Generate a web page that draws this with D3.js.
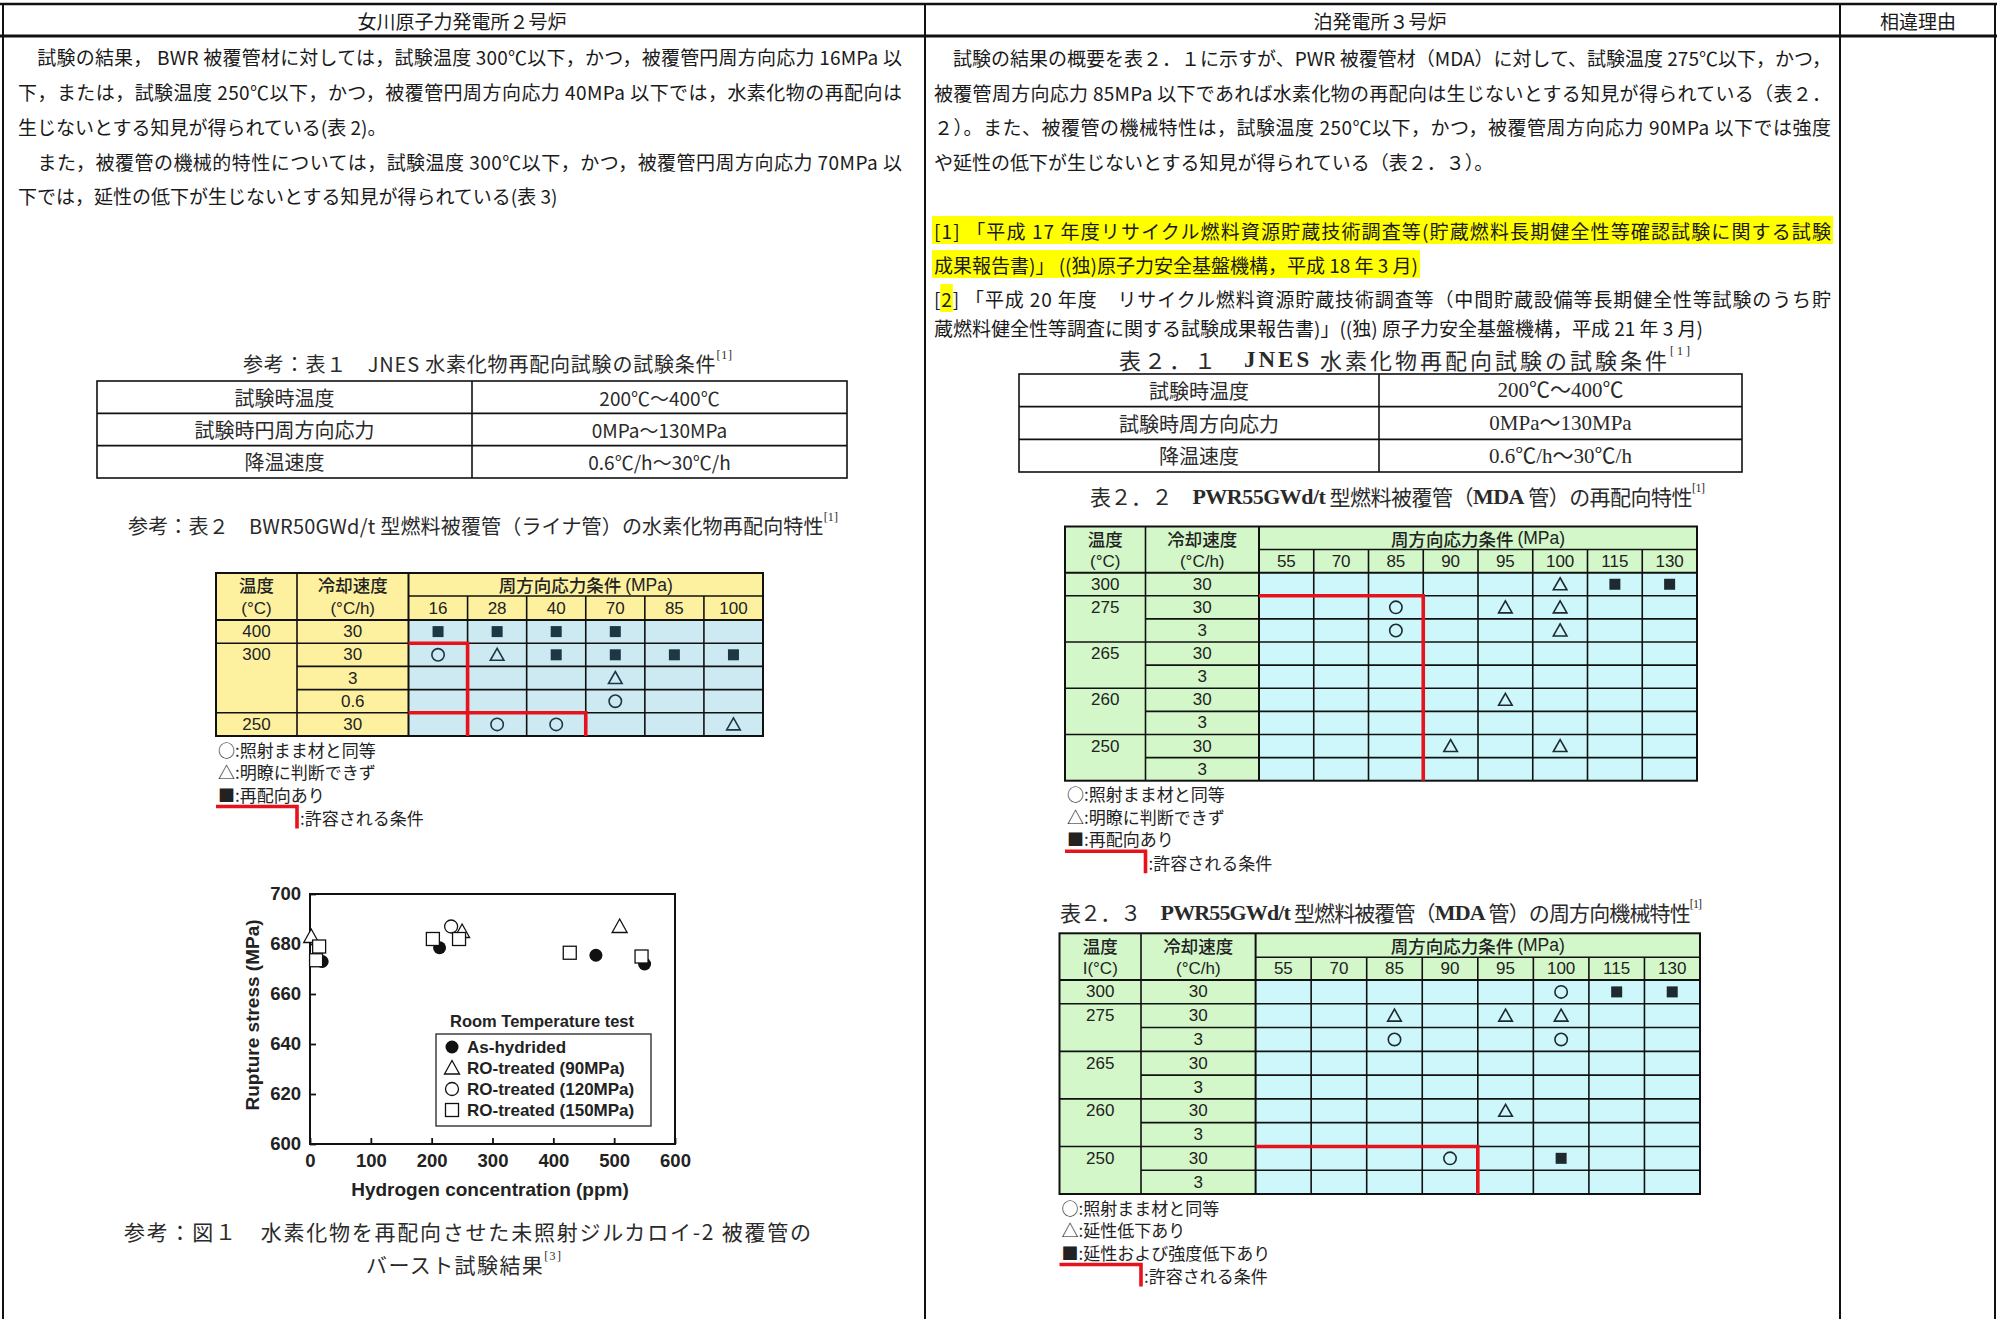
<!DOCTYPE html>
<html>
<head>
<meta charset="utf-8">
<script src="https://cdn.jsdelivr.net/npm/d3@7"></script>
<style>
  body { margin: 0; background: #fff; }
  svg { display: block; }
</style>
</head>
<body>
<svg id="page" width="2000" height="1319"></svg>
<script>
// ---- data ----
const headers = ['女川原子力発電所２号炉', '泊発電所３号炉', '相違理由'];

const leftText = [
  '　試験の結果， BWR 被覆管材に対しては，試験温度 300℃以下，かつ，被覆管円周方向応力 16MPa 以',
  '下，または，試験温度 250℃以下，かつ，被覆管円周方向応力 40MPa 以下では，水素化物の再配向は',
  '生じないとする知見が得られている(表 2)。',
  '　また，被覆管の機械的特性については，試験温度 300℃以下，かつ，被覆管円周方向応力 70MPa 以',
  '下では，延性の低下が生じないとする知見が得られている(表 3)'
];
const leftJustify = [true, true, false, true, false];

const rightText = [
  '　試験の結果の概要を表２．１に示すが、PWR 被覆管材（MDA）に対して、試験温度 275℃以下，かつ，',
  '被覆管周方向応力 85MPa 以下であれば水素化物の再配向は生じないとする知見が得られている（表２．',
  '２）。また、被覆管の機械特性は，試験温度 250℃以下，かつ，被覆管周方向応力 90MPa 以下では強度',
  'や延性の低下が生じないとする知見が得られている（表２．３）。'
];
const rightJustify = [true, true, true, false];

const refText = [
  '[1] 「平成 17 年度リサイクル燃料資源貯蔵技術調査等(貯蔵燃料長期健全性等確認試験に関する試験',
  '成果報告書)」 ((独)原子力安全基盤機構，平成 18 年 3 月)',
  '[2] 「平成 20 年度　リサイクル燃料資源貯蔵技術調査等（中間貯蔵設備等長期健全性等試験のうち貯',
  '蔵燃料健全性等調査に関する試験成果報告書)」((独) 原子力安全基盤機構，平成 21 年 3 月)'
];
const refJustify = [true, false, true, false];

const condLabelsL = ['試験時温度', '試験時円周方向応力', '降温速度'];
const condValuesL = ['200℃～400℃', '0MPa～130MPa', '0.6℃/h～30℃/h'];
const condLabelsR = ['試験時温度', '試験時周方向応力', '降温速度'];
const condValuesR = ['200℃～400℃', '0MPa～130MPa', '0.6℃/h～30℃/h'];

const bwrStress = [16, 28, 40, 70, 85, 100];
const bwrTemps = ['400', '300', '250'];
const bwrTempSpan = [1, 3, 1];
const bwrRates = ['30', '30', '3', '0.6', '30'];
const bwrMarks = [
  [0, 16, 'sq'], [0, 28, 'sq'], [0, 40, 'sq'], [0, 70, 'sq'],
  [1, 16, 'ci'], [1, 28, 'tr'], [1, 40, 'sq'], [1, 70, 'sq'], [1, 85, 'sq'], [1, 100, 'sq'],
  [2, 70, 'tr'], [3, 70, 'ci'],
  [4, 28, 'ci'], [4, 40, 'ci'], [4, 100, 'tr']
];
const bwrLimit = [[[0, 1], [1, 1], [1, 5]], [[0, 4], [3, 4], [3, 5]]];
const bwrLegend = ['○:照射まま材と同等', '△:明瞭に判断できず', '■:再配向あり'];

const mdaStress = [55, 70, 85, 90, 95, 100, 115, 130];
const mdaTemps = ['300', '275', '265', '260', '250'];
const mdaTempSpan = [1, 2, 2, 2, 2];
const mdaRates = ['30', '30', '3', '30', '3', '30', '3', '30', '3'];

const reorientMarks = [
  [0, 100, 'tr'], [0, 115, 'sq'], [0, 130, 'sq'],
  [1, 85, 'ci'], [1, 95, 'tr'], [1, 100, 'tr'],
  [2, 85, 'ci'], [2, 100, 'tr'],
  [5, 95, 'tr'],
  [7, 90, 'tr'], [7, 100, 'tr']
];
const reorientLimit = [[[0, 1], [3, 1], [3, 9]]];
const reorientLegend = ['○:照射まま材と同等', '△:明瞭に判断できず', '■:再配向あり'];

const mechMarks = [
  [0, 100, 'ci'], [0, 115, 'sq'], [0, 130, 'sq'],
  [1, 85, 'tr'], [1, 95, 'tr'], [1, 100, 'tr'],
  [2, 85, 'ci'], [2, 100, 'ci'],
  [5, 95, 'tr'],
  [7, 90, 'ci'], [7, 100, 'sq']
];
const mechLimit = [[[0, 7], [4, 7], [4, 9]]];
const mechLegend = ['○:照射まま材と同等', '△:延性低下あり', '■:延性および強度低下あり'];
const allowLabel = ':許容される条件';

// burst test (hydrogen ppm, rupture stress MPa)
const asHydrided = [[20, 673], [213, 678.5], [470, 675.5], [550, 672]];
const ro90 = [[2, 683], [250, 685], [509, 687]];
const ro120 = [[232, 687]];
const ro150 = [[10, 673.5], [15, 679], [202, 682], [245, 682], [427, 676.5], [545, 675]];
const seriesNames = ['As-hydrided', 'RO-treated (90MPa)', 'RO-treated (120MPa)', 'RO-treated (150MPa)'];
const xTicks = [0, 100, 200, 300, 400, 500, 600];
const yTicks = [600, 620, 640, 660, 680, 700];

// ---- drawing ----
const FONT_JP = '"Noto Sans CJK JP", sans-serif';
const FONT_SANS = '"Liberation Sans", Arial, sans-serif';
const FONT_NARROW = '"Liberation Sans Narrow", "Liberation Sans", Arial, sans-serif';
const FONT_SERIF = '"Liberation Serif", "Noto Sans CJK JP", serif';
const INK = '#1a1a1a';
const RED = '#e8121c';

const svg = d3.select('#page');

function txt(g, x, y, s, o = {}) {
  return g.append('text')
    .attr('x', x).attr('y', y).text(s)
    .attr('font-family', o.family || FONT_JP)
    .attr('font-size', o.size || 19)
    .attr('font-weight', o.weight || 400)
    .attr('fill', o.fill || INK)
    .attr('text-anchor', o.anchor || 'start')
    .attr('dominant-baseline', 'central');
}

function line(g, x1, y1, x2, y2, w = 1.6, c = '#111') {
  g.append('line').attr('x1', x1).attr('y1', y1).attr('x2', x2).attr('y2', y2)
    .attr('stroke', c).attr('stroke-width', w);
}

// page frame
const frame = svg.append('g');
line(frame, 0, 4, 1997, 4, 2.5);
line(frame, 0, 36, 1997, 36, 3.2);
line(frame, 3, 4, 3, 1319, 2);
line(frame, 925, 4, 925, 1319, 2);
line(frame, 1840, 4, 1840, 1319, 2);
line(frame, 1995, 4, 1995, 1319, 2);
[462, 1380, 1918].forEach((cx, i) => txt(frame, cx, 20, headers[i], { size: 19, anchor: 'middle' }));

// paragraphs
function paragraph(lines, just, x, x2, ys) {
  const g = svg.append('g');
  return lines.map((s, i) => {
    const t = txt(g, x, ys[i], s, { size: 19 });
    if (just[i]) t.attr('textLength', x2 - x).attr('lengthAdjust', 'spacing');
    return t;
  });
}
paragraph(leftText, leftJustify, 18, 902, [56, 91, 126, 161, 195]);
paragraph(rightText, rightJustify, 934, 1831, [57, 92, 126, 161]);

// highlighted references
const hl = svg.append('g');
const refs = paragraph(refText, refJustify, 934, 1831, [230, 264, 298, 327]);
[0, 1].forEach(i => {
  const b = refs[i].node().getBBox();
  hl.append('rect').attr('x', b.x - 2).attr('y', refs[i].attr('y') - 14)
    .attr('width', b.width + 4).attr('height', 28).attr('fill', '#ffff00');
});
{
  const e = refs[2].node().getExtentOfChar(1);
  hl.append('rect').attr('x', e.x - 1).attr('y', 298 - 14).attr('width', e.width + 2)
    .attr('height', 28).attr('fill', '#ffff00');
}

// captions with mixed fonts, stretched to the span they take in the page
function caption(x0, x1, y, parts, size = 20) {
  const t = svg.append('text').attr('x', x0).attr('y', y)
    .attr('dominant-baseline', 'central')
    .attr('font-size', size).attr('fill', '#2a2a2a')
    .attr('textLength', x1 - x0).attr('lengthAdjust', 'spacing');
  parts.forEach(([s, kind]) => {
    const sp = t.append('tspan').text(s);
    if (kind === 'lat') sp.attr('font-family', FONT_SERIF).attr('font-weight', 700).attr('font-size', size + 1);
    else if (kind === 'sup') sp.attr('font-family', FONT_SERIF).attr('font-size', 12).attr('dy', -8);
    else sp.attr('font-family', FONT_JP);
  });
}
caption(243, 732, 363, [['参考：表１　', 'jp'], ['JNES', 'jp'], [' 水素化物再配向試験の試験条件', 'jp'], ['[1]', 'sup']]);
caption(128, 838, 525, [['参考：表２　', 'jp'], ['BWR50GWd/t', 'jp'], [' 型燃料被覆管（ライナ管）の水素化物再配向特性', 'jp'], ['[1]', 'sup']]);
caption(1119, 1690, 359, [['表２．１　', 'jp'], ['JNES', 'lat'], [' 水素化物再配向試験の試験条件', 'jp'], ['[1]', 'sup']], 22);
caption(1090, 1705, 496, [['表２．２　', 'jp'], ['PWR55GWd/t', 'lat'], [' 型燃料被覆管（', 'jp'], ['MDA', 'lat'], [' 管）の再配向特性', 'jp'], ['[1]', 'sup']], 21);
caption(1060, 1702, 912, [['表２．３　', 'jp'], ['PWR55GWd/t', 'lat'], [' 型燃料被覆管（', 'jp'], ['MDA', 'lat'], [' 管）の周方向機械特性', 'jp'], ['[1]', 'sup']], 21);
caption(124, 811, 1231, [['参考：図１　水素化物を再配向させた未照射ジルカロイ-2 被覆管の', 'jp']], 21);
caption(366, 561, 1264, [['バースト試験結果', 'jp'], ['[3]', 'sup']], 21);

// test-condition tables
function condTable(labels, values, x0, xm, x1, y0, y1, valueFont) {
  const g = svg.append('g');
  const row = d3.scaleBand().domain(d3.range(labels.length)).range([y0, y1]);
  g.append('rect').attr('x', x0).attr('y', y0).attr('width', x1 - x0).attr('height', y1 - y0)
    .attr('fill', 'none').attr('stroke', '#111').attr('stroke-width', 1.6);
  line(g, xm, y0, xm, y1);
  labels.forEach((l, i) => {
    if (i > 0) line(g, x0, row(i), x1, row(i));
    const cy = row(i) + row.bandwidth() / 2;
    txt(g, (x0 + xm) / 2, cy, l, { size: 20, anchor: 'middle', fill: '#2a2a2a' });
    txt(g, (xm + x1) / 2, cy, values[i], { size: valueFont.size, family: valueFont.family, anchor: 'middle', fill: '#2a2a2a' });
  });
}
condTable(condLabelsL, condValuesL, 97, 472, 847, 381, 478, { family: FONT_JP, size: 19 });
condTable(condLabelsR, condValuesR, 1019, 1379, 1742, 374, 472, { family: FONT_SERIF, size: 21 });

// symbol helper
function mark(g, cx, cy, type, color) {
  if (type === 'sq') {
    g.append('rect').attr('x', cx - 5.5).attr('y', cy - 5.5).attr('width', 11).attr('height', 11).attr('fill', color);
  } else if (type === 'ci') {
    g.append('circle').attr('cx', cx).attr('cy', cy).attr('r', 6.2)
      .attr('fill', 'none').attr('stroke', color).attr('stroke-width', 1.6);
  } else {
    g.append('path').attr('d', `M${cx},${cy - 6.5}L${cx + 6.8},${cy + 5.5}L${cx - 6.8},${cy + 5.5}Z`)
      .attr('fill', 'none').attr('stroke', color).attr('stroke-width', 1.6);
  }
}

// matrix tables
function matrix(cfg) {
  const g = svg.append('g');
  const col = d3.scaleBand().domain(cfg.stress).range([cfg.xRate, cfg.x1]);
  const row = d3.scaleBand().domain(d3.range(cfg.rates.length)).range([cfg.yH2, cfg.y1]);
  const gx = d3.scaleLinear().domain([0, cfg.stress.length]).range([cfg.xRate, cfg.x1]);
  const gy = d3.scaleLinear().domain([0, cfg.rates.length]).range([cfg.yH2, cfg.y1]);
  const numFont = { family: FONT_NARROW, size: 17, anchor: 'middle', fill: '#222' };
  const jpFont = { family: FONT_JP, size: 17.5, anchor: 'middle', fill: '#222', weight: 500 };

  g.append('rect').attr('x', cfg.x0).attr('y', cfg.y0).attr('width', cfg.x1 - cfg.x0)
    .attr('height', cfg.y1 - cfg.y0).attr('fill', cfg.head);
  g.append('rect').attr('x', cfg.xRate).attr('y', cfg.yH2).attr('width', cfg.x1 - cfg.xRate)
    .attr('height', cfg.y1 - cfg.yH2).attr('fill', cfg.cell);

  // grid
  const groupStarts = [];
  cfg.tempSpan.reduce((acc, n) => { groupStarts.push(acc); return acc + n; }, 0);
  d3.range(1, cfg.rates.length).forEach(i => {
    const full = groupStarts.includes(i);
    line(g, full ? cfg.x0 : cfg.xTemp, gy(i), cfg.x1, gy(i));
  });
  line(g, cfg.xRate, cfg.yH1, cfg.x1, cfg.yH1);
  line(g, cfg.x0, cfg.yH2, cfg.x1, cfg.yH2, 2);
  line(g, cfg.xTemp, cfg.y0, cfg.xTemp, cfg.y1);
  line(g, cfg.xRate, cfg.y0, cfg.xRate, cfg.y1, 2);
  d3.range(1, cfg.stress.length).forEach(j => line(g, gx(j), cfg.yH1, gx(j), cfg.y1));
  g.append('rect').attr('x', cfg.x0).attr('y', cfg.y0).attr('width', cfg.x1 - cfg.x0)
    .attr('height', cfg.y1 - cfg.y0).attr('fill', 'none').attr('stroke', '#111').attr('stroke-width', 2);

  // headers
  const hy1 = (cfg.y0 + cfg.yH1) / 2, hy2 = (cfg.yH1 + cfg.yH2) / 2;
  txt(g, (cfg.x0 + cfg.xTemp) / 2, hy1, '温度', jpFont);
  txt(g, (cfg.x0 + cfg.xTemp) / 2, hy2, cfg.tempUnit, numFont);
  txt(g, (cfg.xTemp + cfg.xRate) / 2, hy1, '冷却速度', jpFont);
  txt(g, (cfg.xTemp + cfg.xRate) / 2, hy2, '(°C/h)', numFont);
  const stressHead = txt(g, (cfg.xRate + cfg.x1) / 2, hy1, '周方向応力条件 ', jpFont);
  stressHead.append('tspan').attr('font-family', FONT_NARROW).text('(MPa)');
  cfg.stress.forEach(s => txt(g, col(s) + col.bandwidth() / 2, hy2, String(s), numFont));

  // row labels
  cfg.temps.forEach((t, i) => txt(g, (cfg.x0 + cfg.xTemp) / 2, row(groupStarts[i]) + row.bandwidth() / 2, t, numFont));
  cfg.rates.forEach((r, i) => txt(g, (cfg.xTemp + cfg.xRate) / 2, row(i) + row.bandwidth() / 2, r, numFont));

  // marks
  cfg.marks.forEach(([r, s, type]) =>
    mark(g, col(s) + col.bandwidth() / 2, row(r) + row.bandwidth() / 2, type, cfg.ink));

  // allowed-condition boundary
  const path = d3.line().x(d => gx(d[0])).y(d => gy(d[1]));
  cfg.limit.forEach(seg => g.append('path').attr('d', path(seg)).attr('fill', 'none')
    .attr('stroke', RED).attr('stroke-width', 3.6));

  // legend
  const ly = cfg.y1 + 13;
  cfg.legend.forEach((s, i) => txt(g, cfg.x0 + 2, ly + i * 22.5, s, { family: FONT_JP, size: 17, fill: '#222' }));
  const ry = ly + 3 * 22.5 - 10;
  g.append('path').attr('d', `M${cfg.x0},${ry}H${cfg.xTemp}V${ry + 22}`)
    .attr('fill', 'none').attr('stroke', RED).attr('stroke-width', 3.6);
  txt(g, cfg.xTemp + 3, ry + 11, allowLabel, { family: FONT_JP, size: 17, fill: '#222' });
}

matrix({
  x0: 216, xTemp: 297, xRate: 408.5, x1: 763,
  y0: 573, yH1: 596, yH2: 620, y1: 736,
  stress: bwrStress, temps: bwrTemps, tempSpan: bwrTempSpan, rates: bwrRates,
  marks: bwrMarks, limit: bwrLimit, legend: bwrLegend, tempUnit: '(°C)',
  head: '#fdf1a0', cell: '#cdeaf3', ink: '#1d3744'
});
matrix({
  x0: 1065, xTemp: 1145.5, xRate: 1259, x1: 1697,
  y0: 526.5, yH1: 549.5, yH2: 572.7, y1: 780.7,
  stress: mdaStress, temps: mdaTemps, tempSpan: mdaTempSpan, rates: mdaRates,
  marks: reorientMarks, limit: reorientLimit, legend: reorientLegend, tempUnit: '(°C)',
  head: '#d3f7c9', cell: '#cdf7fb', ink: '#1e2a30'
});
matrix({
  x0: 1059.5, xTemp: 1141, xRate: 1255.6, x1: 1700,
  y0: 933.3, yH1: 957.3, yH2: 980, y1: 1194,
  stress: mdaStress, temps: mdaTemps, tempSpan: mdaTempSpan, rates: mdaRates,
  marks: mechMarks, limit: mechLimit, legend: mechLegend, tempUnit: 'I(°C)',
  head: '#d3f7c9', cell: '#cdf7fb', ink: '#1e2a30'
});

// burst test scatter
{
  const g = svg.append('g');
  const x = d3.scaleLinear().domain([0, 600]).range([310, 675]);
  const y = d3.scaleLinear().domain([600, 700]).range([1144, 894]);
  const lab = { family: FONT_SANS, weight: 700, fill: '#222' };

  const xa = g.append('g').attr('transform', 'translate(0,1144)')
    .call(d3.axisBottom(x).tickValues(xTicks).tickSizeInner(-6).tickSizeOuter(0).tickPadding(10));
  const ya = g.append('g').attr('transform', 'translate(310,0)')
    .call(d3.axisLeft(y).tickValues(yTicks).tickSizeInner(-6).tickSizeOuter(0).tickPadding(9));
  [xa, ya].forEach(a => {
    a.select('.domain').remove();
    a.selectAll('line').attr('stroke', '#111').attr('stroke-width', 1.8);
    a.selectAll('text').attr('font-family', FONT_SANS).attr('font-weight', 700)
      .attr('font-size', 18.5).attr('fill', '#222');
  });
  g.append('rect').attr('x', 310).attr('y', 894).attr('width', 365).attr('height', 250)
    .attr('fill', 'none').attr('stroke', '#111').attr('stroke-width', 2);

  txt(g, 490, 1189, 'Hydrogen concentration (ppm)', { ...lab, size: 19, anchor: 'middle' });
  txt(g, 0, 0, 'Rupture stress (MPa)', { ...lab, size: 19, anchor: 'middle' })
    .attr('transform', 'translate(252,1015) rotate(-90)');

  function sym(cx, cy, kind) {
    if (kind === 0) g.append('circle').attr('cx', cx).attr('cy', cy).attr('r', 6.5).attr('fill', '#111');
    else if (kind === 1) g.append('path').attr('d', `M${cx},${cy - 7.5}L${cx + 7.5},${cy + 6}L${cx - 7.5},${cy + 6}Z`)
      .attr('fill', '#fff').attr('stroke', '#111').attr('stroke-width', 1.3);
    else if (kind === 2) g.append('circle').attr('cx', cx).attr('cy', cy).attr('r', 6.5)
      .attr('fill', '#fff').attr('stroke', '#111').attr('stroke-width', 1.3);
    else g.append('rect').attr('x', cx - 6.5).attr('y', cy - 6.5).attr('width', 13).attr('height', 13)
      .attr('fill', '#fff').attr('stroke', '#111').attr('stroke-width', 1.3);
  }
  [asHydrided, ro120, ro90, ro150].forEach((s, k) => {
    const kind = [0, 2, 1, 3][k];
    s.forEach(([h, p]) => sym(x(h), y(p), kind));
  });

  // legend
  txt(g, 542, 1021, 'Room Temperature test', { ...lab, size: 16.5, anchor: 'middle' });
  g.append('rect').attr('x', 436).attr('y', 1034).attr('width', 215).attr('height', 92)
    .attr('fill', '#fff').attr('stroke', '#333').attr('stroke-width', 1.4);
  seriesNames.forEach((n, i) => {
    const cy = 1047 + i * 21;
    sym(452, cy, i);
    txt(g, 467, cy, n, { ...lab, size: 17 });
  });
}
</script>
</body>
</html>
